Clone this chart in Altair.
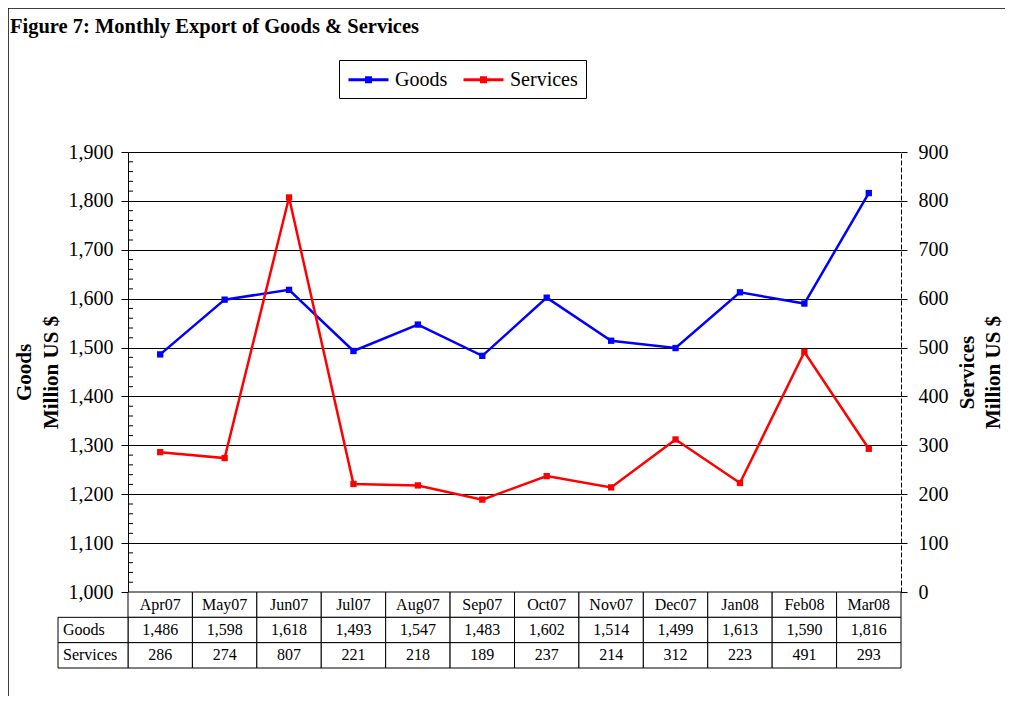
import altair as alt
import pandas as pd

# ---------------- data ----------------
months = ["Apr07", "May07", "Jun07", "Jul07", "Aug07", "Sep07",
          "Oct07", "Nov07", "Dec07", "Jan08", "Feb08", "Mar08"]
goods = [1486, 1598, 1618, 1493, 1547, 1483, 1602, 1514, 1499, 1613, 1590, 1816]
services = [286, 274, 807, 221, 218, 189, 237, 214, 312, 223, 491, 293]
series_names = ["Goods", "Services"]
series_colors = ["#0000FF", "#FF0000"]
goods_ticks = [1000, 1100, 1200, 1300, 1400, 1500, 1600, 1700, 1800, 1900]
services_ticks = [0, 100, 200, 300, 400, 500, 600, 700, 800, 900]
goods_minor_ticks = [v for v in range(1000, 1901, 20) if v % 100]
table_rows = ["Month", "Goods", "Services"]
title_text = "Figure 7: Monthly Export of Goods & Services"
goods_axis_title = ["Goods", "Million US $"]
services_axis_title = ["Services", "Million US $"]

FONT = "Liberation Serif"
W, H = 773, 440

goods_df = pd.DataFrame({"month": months, "value": goods, "series": "Goods"})
services_df = pd.DataFrame({"month": months, "value": services, "series": "Services"})

table_records = []
for m, g, s in zip(months, goods, services):
    table_records.append({"month": m, "row": "Month", "label": m})
    table_records.append({"month": m, "row": "Goods", "label": f"{g:,}"})
    table_records.append({"month": m, "row": "Services", "label": f"{s:,}"})
table_df = pd.DataFrame(table_records)
header_df = pd.DataFrame({"row": table_rows[1:]})

# ---------------- scales ----------------
xscale = alt.Scale(type="band", domain=months, paddingInner=0, paddingOuter=0)
xenc = alt.X("month:N", scale=xscale, axis=None)
rowscale = alt.Scale(type="band", domain=table_rows, range=[H, H + 76],
                     paddingInner=0, paddingOuter=0)
color_scale = alt.Scale(domain=series_names, range=series_colors)

legend = alt.Legend(
    title=None, orient="none", legendX=211, legendY=-92, direction="horizontal",
    strokeColor="black", fillColor="white", padding=8,
    symbolType="M-1,0H3M0.8,-0.2H1.2V0.2H0.8Z", symbolSize=400,
    symbolStrokeWidth=3, labelOffset=25, columnPadding=9,
    labelFont=FONT, labelFontSize=20, labelColor="black",
)
color_enc = alt.Color("series:N", scale=color_scale, legend=legend)

point_def = alt.OverlayMarkDef(shape="square", size=40, filled=True)

goods_layer = alt.Chart(goods_df).mark_line(strokeWidth=2.5, point=point_def).encode(
    x=xenc,
    y=alt.Y("value:Q",
            scale=alt.Scale(domain=[1000, 1900], nice=False, zero=False),
            axis=alt.Axis(orient="left", values=goods_ticks, format=",d",
                          grid=True, gridColor="black", gridWidth=1,
                          domainColor="black", tickColor="black", tickSize=7,
                          labelPadding=8, labelFont=FONT, labelFontSize=20,
                          labelColor="black",
                          title=goods_axis_title, titleFont=FONT,
                          titleFontSize=21, titleFontWeight="bold",
                          titleColor="black", titleLineHeight=27,
                          titlePadding=7)),
    color=color_enc,
)

services_layer = alt.Chart(services_df).mark_line(strokeWidth=2.5, point=point_def).encode(
    x=xenc,
    y=alt.Y("value:Q",
            scale=alt.Scale(domain=[0, 900], nice=False),
            axis=alt.Axis(orient="right", values=services_ticks, format="d",
                          grid=False,
                          domainColor="black", domainDash=[5, 2],
                          tickColor="black", tickSize=6,
                          labelPadding=11, labelFont=FONT, labelFontSize=20,
                          labelColor="black",
                          title=services_axis_title, titleFont=FONT,
                          titleFontSize=21, titleFontWeight="bold",
                          titleColor="black", titleLineHeight=26,
                          titleAngle=-90, titlePadding=3)),
    color=color_enc,
)

minor_layer = alt.Chart(pd.DataFrame({"v": goods_minor_ticks})).mark_rule(
    color="black", strokeWidth=1).encode(
    y=alt.Y("v:Q", scale=alt.Scale(domain=[1000, 1900], nice=False, zero=False), axis=None),
    x=alt.value(0), x2=alt.value(5),
)

cell_layer = alt.Chart(table_df).mark_rect(fill="white", stroke="black", strokeWidth=1).encode(
    x=xenc,
    y=alt.Y("row:N", scale=rowscale, axis=None),
)

cell_text = alt.Chart(table_df).mark_text(font=FONT, fontSize=16, color="black",
                                          baseline="middle").encode(
    x=xenc,
    y=alt.Y("row:N", scale=rowscale, axis=None),
    text="label:N",
)

header_cells = alt.Chart(header_df).mark_rect(fill="white", stroke="black", strokeWidth=1).encode(
    x=alt.value(-70), x2=alt.value(0),
    y=alt.Y("row:N", scale=rowscale, axis=None),
)

header_text = alt.Chart(header_df).mark_text(font=FONT, fontSize=16, color="black",
                                             align="left", baseline="middle").encode(
    x=alt.value(-65),
    y=alt.Y("row:N", scale=rowscale, axis=None),
    text="row:N",
)

border = alt.Chart(pd.DataFrame({"b": [0]})).mark_rect(
    fillOpacity=0, stroke="black", strokeWidth=1.5).encode(
    x=alt.value(-120), y=alt.value(-144), x2=alt.value(1200), y2=alt.value(900),
)

title_layer = alt.Chart(pd.DataFrame({"t": [title_text]})).mark_text(
    font=FONT, fontSize=20.5, fontWeight="bold", color="black",
    align="left", baseline="middle").encode(
    x=alt.value(-118), y=alt.value(-125), text="t:N",
)

chart = alt.layer(
    border, title_layer, cell_layer, header_cells, cell_text, header_text,
    goods_layer, services_layer, minor_layer,
).resolve_scale(y="independent").properties(
    width=W, height=H, autosize="none",
    padding={"left": 120, "top": 144, "right": 104, "bottom": 104},
).configure_view(stroke=None)

chart.save("out.html", embed_options={"renderer": "svg", "actions": False})
